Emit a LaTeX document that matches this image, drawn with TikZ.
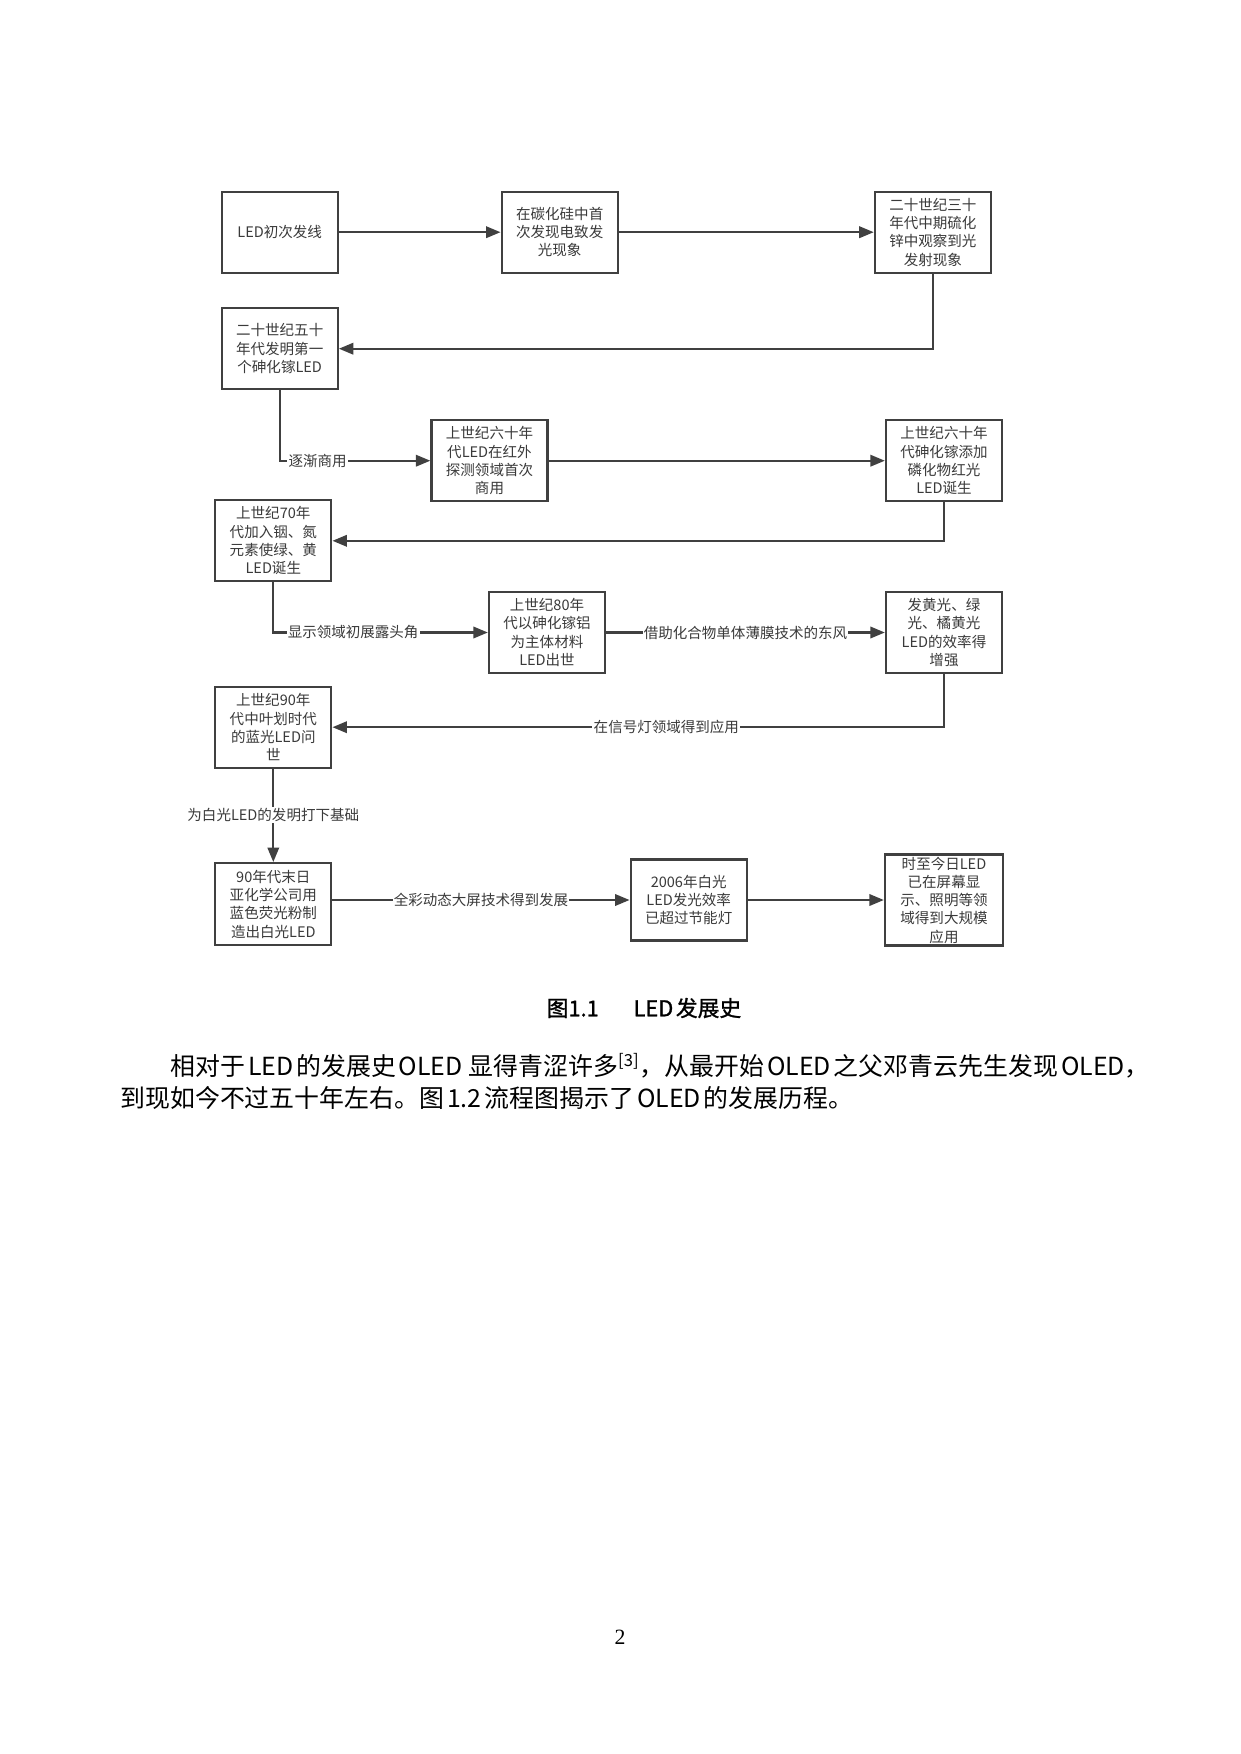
\documentclass[tikz,border=0pt]{standalone}
\usepackage{fontspec}
\setmainfont{Liberation Serif}
\newfontfamily\cjk{Noto Sans CJK SC}
\newfontfamily\cjkcap{Noto Sans CJK SC}[FakeBold=1.2]
\usetikzlibrary{arrows.meta}
\newlength{\pxunit}\setlength{\pxunit}{0.0169333cm}
\definecolor{linec}{HTML}{404040}
\definecolor{txtc}{HTML}{3A3A3A}
\newcommand{\lsp}{\hspace{0.12em}}
\tikzset{
 box/.style={draw=linec, line width=1.1pt, minimum width=116*\pxunit, minimum height=81*\pxunit, inner sep=0pt, align=center, font=\cjk\fontsize{7pt}{8.8pt}\selectfont, text=txtc},
 conn/.style={draw=linec, line width=1.1pt, -{Triangle[length=7pt,width=5.5pt]}},
 lbl/.style={fill=white, inner sep=0.6pt, font=\cjk\fontsize{7pt}{8.8pt}\selectfont, text=txtc},
}
\begin{document}
\begin{tikzpicture}[x=0.0169333cm, y=-0.0169333cm]
\path[use as bounding box, fill=white] (0,0) rectangle (1240,1754);

\node[box] (b1) at (279.7,232.2) {LED初次发线};
\node[box] (b2) at (559.7,232.2) {在碳化硅中首\\次发现电致发\\光现象};
\node[box] (b3) at (932.9,232.2) {二十世纪三十\\年代中期硫化\\锌中观察到光\\发射现象};
\node[box] (b4) at (279.7,348.7) {二十世纪五十\\年代发明第一\\个砷化镓LED};
\node[box] (b5) at (489.5,460.7) {上世纪六十年\\代LED在红外\\探测领域首次\\商用};
\node[box] (b6) at (944,460.7) {上世纪六十年\\代砷化镓添加\\磷化物红光\\LED诞生};
\node[box] (b7) at (273.3,540.8) {上世纪70年\\代加入铟、氮\\元素使绿、黄\\LED诞生};
\node[box] (b8) at (547,632.5) {上世纪80年\\代以砷化镓铝\\为主体材料\\LED出世};
\node[box] (b9) at (944,632.5) {发黄光、绿\\光、橘黄光\\LED的效率得\\增强};
\node[box] (b10) at (273.3,727.2) {上世纪90年\\代中叶划时代\\的蓝光LED问\\世};
\node[box, minimum height=82*\pxunit] (b11) at (273.3,904.2) {90年代末日\\亚化学公司用\\蓝色荧光粉制\\造出白光LED};
\node[box] (b12) at (688.7,900) {2006年白光\\LED发光效率\\已超过节能灯};
\node[box, minimum width=118*\pxunit, minimum height=91*\pxunit] (b13) at (944,900) {时至今日LED\\已在屏幕显\\示、照明等领\\域得到大规模\\应用};

\draw[conn] (b1) -- (b2);
\draw[conn] (b2) -- (b3);
\draw[conn] (b3.south) |- (b4.east);
\draw[conn] (b4.south) |- node[lbl, pos=0.626]{逐渐商用} (b5.west);
\draw[conn] (b5) -- (b6);
\draw[conn] (b6.south) |- (b7.east);
\draw[conn] (b7.south) |- node[lbl, pos=0.686]{显示领域初展露头角} (b8.west);
\draw[conn] (b8) -- node[lbl]{借助化合物单体薄膜技术的东风} (b9);
\draw[conn] (b9.south) |- node[lbl, pos=0.727]{在信号灯领域得到应用} (b10.east);
\draw[conn] (b10) -- node[lbl]{为白光LED的发明打下基础} (b11);
\draw[conn] (b11.east |- b12.west) -- node[lbl]{全彩动态大屏技术得到发展} (b12.west);
\draw[conn] (b12) -- (b13);

\node[font=\cjkcap\fontsize{10.5pt}{12pt}\selectfont] (cap) at (644,1008) {图1.1\hspace{1.6em}LED\lsp 发展史};
\node[anchor=west, inner sep=0pt, font=\cjk\fontsize{12pt}{15pt}\selectfont] (p1) at (170,1066) {相对于\lsp LED\lsp 的发展史\lsp OLED\lsp\lsp 显得青涩许多\textsuperscript{[3]}，从最开始\lsp OLED\lsp 之父邓青云先生发现\lsp OLED，};
\node[anchor=west, inner sep=0pt, font=\cjk\fontsize{12pt}{15pt}\selectfont] (p2) at (120,1098) {到现如今不过五十年左右。图\lsp 1.2\lsp 流程图揭示了\lsp OLED\lsp 的发展历程。};
\node[font=\fontsize{10.5pt}{12pt}\selectfont] (pg) at (620,1637) {2};
\end{tikzpicture}
\end{document}
